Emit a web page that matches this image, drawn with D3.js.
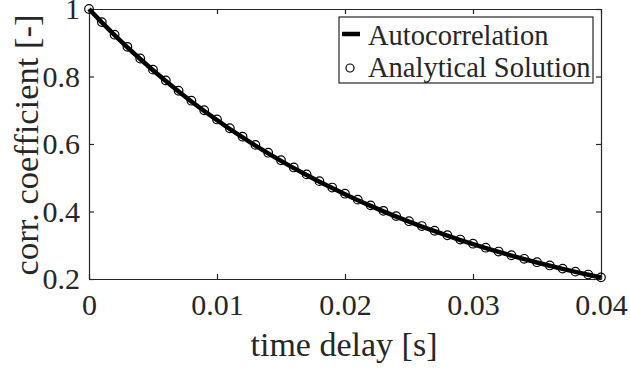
<!DOCTYPE html>
<html>
<head>
<meta charset="utf-8">
<script src="https://cdn.jsdelivr.net/npm/d3@7/dist/d3.min.js"></script>
<style>
  html, body { margin: 0; padding: 0; background: #fff; }
  svg { display: block; }
  text { font-family: "Liberation Serif", "Times New Roman", serif; fill: #262626; }
</style>
</head>
<body>
<svg id="chart" width="630" height="369"></svg>
<script>
// Time delay samples [s]
const timeDelay = [0.000, 0.001, 0.002, 0.003, 0.004, 0.005, 0.006, 0.007, 0.008, 0.009,
                   0.010, 0.011, 0.012, 0.013, 0.014, 0.015, 0.016, 0.017, 0.018, 0.019,
                   0.020, 0.021, 0.022, 0.023, 0.024, 0.025, 0.026, 0.027, 0.028, 0.029,
                   0.030, 0.031, 0.032, 0.033, 0.034, 0.035, 0.036, 0.037, 0.038, 0.039, 0.040];

// Measured autocorrelation coefficient
const autocorrelation = [1.0000, 0.9605, 0.9228, 0.8866, 0.8518, 0.8185, 0.7865, 0.7557, 0.7262, 0.6978,
                         0.6706, 0.6445, 0.6194, 0.5953, 0.5722, 0.5500, 0.5286, 0.5081, 0.4882, 0.4693,
                         0.4510, 0.4335, 0.4166, 0.4004, 0.3848, 0.3698, 0.3554, 0.3416, 0.3283, 0.3155,
                         0.3033, 0.2915, 0.2802, 0.2693, 0.2589, 0.2489, 0.2393, 0.2300, 0.2211, 0.2126, 0.2044];

// Analytical solution at the same delays
const analytical = [1.0000, 0.9612, 0.9238, 0.8879, 0.8534, 0.8203, 0.7884, 0.7578, 0.7283, 0.7000,
                    0.6728, 0.6467, 0.6216, 0.5974, 0.5742, 0.5519, 0.5305, 0.5099, 0.4900, 0.4710,
                    0.4527, 0.4351, 0.4182, 0.4020, 0.3863, 0.3713, 0.3569, 0.3430, 0.3297, 0.3169,
                    0.3046, 0.2927, 0.2814, 0.2704, 0.2599, 0.2498, 0.2401, 0.2308, 0.2218, 0.2132, 0.2049];

const xTicks = [0, 0.01, 0.02, 0.03, 0.04];
const xTickLabels = ["0", "0.01", "0.02", "0.03", "0.04"];
const yTicks = [0.2, 0.4, 0.6, 0.8, 1];
const yTickLabels = ["0.2", "0.4", "0.6", "0.8", "1"];
const seriesNames = ["Autocorrelation", "Analytical Solution"];

const svg = d3.select("#chart");
const axisColor = "#262626";
const plot = { left: 89, right: 601, top: 9, bottom: 279 };

const x = d3.scaleLinear().domain([0, 0.04]).range([plot.left, plot.right]);
const y = d3.scaleLinear().domain([0.2, 1]).range([plot.bottom, plot.top]);

function styleAxis(g, fontSize) {
  g.attr("font-family", null);
  g.select(".domain").attr("stroke", axisColor).attr("stroke-width", 1.2);
  g.selectAll(".tick line").attr("stroke", axisColor).attr("stroke-width", 1.2);
  g.selectAll(".tick text")
    .attr("fill", axisColor)
    .style("font-size", fontSize + "px");
}

// Box axes with inward ticks on all four sides
svg.append("g")
  .attr("transform", `translate(0,${plot.bottom})`)
  .call(d3.axisBottom(x).tickValues(xTicks)
    .tickFormat((d, i) => xTickLabels[i])
    .tickSizeInner(-5).tickSizeOuter(0).tickPadding(15))
  .call(g => styleAxis(g, 30));

svg.append("g")
  .attr("transform", `translate(0,${plot.top})`)
  .call(d3.axisTop(x).tickValues(xTicks).tickFormat("")
    .tickSizeInner(-5).tickSizeOuter(0))
  .call(g => styleAxis(g, 30));

svg.append("g")
  .attr("transform", `translate(${plot.left},0)`)
  .call(d3.axisLeft(y).tickValues(yTicks)
    .tickFormat((d, i) => yTickLabels[i])
    .tickSizeInner(-5).tickSizeOuter(0).tickPadding(9))
  .call(g => styleAxis(g, 30));

svg.append("g")
  .attr("transform", `translate(${plot.right},0)`)
  .call(d3.axisRight(y).tickValues(yTicks).tickFormat("")
    .tickSizeInner(-5).tickSizeOuter(0))
  .call(g => styleAxis(g, 30));

// Axis titles
svg.append("text")
  .attr("x", (plot.left + plot.right) / 2 - 1)
  .attr("y", 356)
  .attr("text-anchor", "middle")
  .style("font-size", "34px")
  .text("time delay [s]");

svg.append("text")
  .attr("transform", `translate(38,${(plot.top + plot.bottom) / 2 + 1}) rotate(-90)`)
  .attr("text-anchor", "middle")
  .style("font-size", "34.5px")
  .text("corr. coefficient [-]");

// Autocorrelation curve
const points = timeDelay.map((t, i) => ({ t, r: autocorrelation[i], a: analytical[i] }));

svg.append("path")
  .datum(points)
  .attr("fill", "none")
  .attr("stroke", "#000")
  .attr("stroke-width", 4.5)
  .attr("stroke-linejoin", "round")
  .attr("d", d3.line().x(d => x(d.t)).y(d => y(d.r)));

// Analytical solution markers
svg.append("g")
  .selectAll("circle")
  .data(points)
  .join("circle")
  .attr("cx", d => x(d.t))
  .attr("cy", d => y(d.a))
  .attr("r", 4.3)
  .attr("fill", "none")
  .attr("stroke", "#000")
  .attr("stroke-width", 1.2);

// Legend
const legend = svg.append("g");
legend.append("rect")
  .attr("x", 339).attr("y", 17)
  .attr("width", 254).attr("height", 66)
  .attr("fill", "#fff")
  .attr("stroke", axisColor)
  .attr("stroke-width", 1.2);

legend.append("line")
  .attr("x1", 342).attr("x2", 360)
  .attr("y1", 34).attr("y2", 34)
  .attr("stroke", "#000")
  .attr("stroke-width", 4.5);

legend.append("circle")
  .attr("cx", 350).attr("cy", 68)
  .attr("r", 4)
  .attr("fill", "none")
  .attr("stroke", "#000")
  .attr("stroke-width", 1.2);

legend.selectAll("text.entry")
  .data(seriesNames)
  .join("text")
  .attr("class", "entry")
  .attr("x", 368)
  .attr("y", (d, i) => 45 + i * 32)
  .style("font-size", "28.5px")
  .text(d => d);
</script>
</body>
</html>
